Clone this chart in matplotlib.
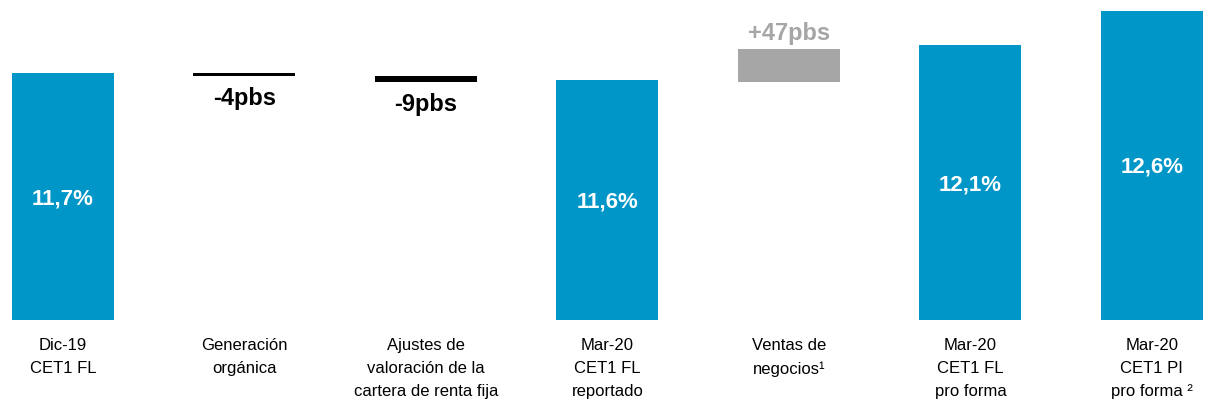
import matplotlib.pyplot as plt

# datos CET1 (en %) y variaciones (en pbs)
categorias = ['Dic-19\nCET1 FL', 'Generación\norgánica',
              'Ajustes de\nvaloración de la\ncartera de renta fija',
              'Mar-20\nCET1 FL\nreportado', 'Ventas de\nnegocios¹',
              'Mar-20\nCET1 FL\npro forma', 'Mar-20\nCET1 PI\npro forma ²']
tipo = ['total', 'delta', 'delta', 'total', 'delta', 'total', 'total']
valores = [11.7, -4, -9, 11.6, 47, 12.1, 12.6]

azul = '#0096C8'
gris = '#A6A6A6'
negro = '#000000'

plt.rcParams['font.family'] = ['Liberation Sans', 'DejaVu Sans']

fig = plt.figure(figsize=(12.08, 4.04), dpi=100)
ax = fig.add_axes([0, 0.2079, 1, 0.7921])

base = 8.139
ancho = 0.562
nivel = valores[0]

for i, (t, v) in enumerate(zip(tipo, valores)):
    if t == 'total':
        ax.bar(i, v - base, bottom=base, width=ancho, color=azul)
        ax.text(i, (base + v) / 2 - 0.03, f'{v:.1f}%'.replace('.', ','),
                ha='center', va='center', color='white',
                fontsize=16, fontweight='bold')
        nivel = v if i == 0 else nivel
    else:
        d = v / 100
        if d < 0:
            ax.bar(i, d, bottom=nivel, width=ancho, color=negro)
            ax.annotate(f'{v}pbs', (i, nivel + d), xytext=(0, -8),
                        textcoords='offset points', ha='center', va='top',
                        fontsize=17, fontweight='bold', color=negro)
        else:
            ax.bar(i, d, bottom=nivel, width=ancho, color=gris)
            ax.annotate(f'+{v}pbs', (i, nivel + d), xytext=(0, 3),
                        textcoords='offset points', ha='center', va='bottom',
                        fontsize=17, fontweight='bold', color=gris)
        nivel += d

ax.set_xlim(-0.347, 6.309)
ax.set_ylim(base, base + 4.614)
ax.set_xticks(range(len(categorias)))
ax.set_xticklabels(categorias, fontsize=12, linespacing=1.65)
ax.tick_params(axis='x', length=0, pad=13)
ax.set_yticks([])
for s in ax.spines.values():
    s.set_visible(False)

fig.savefig('out.png', dpi=100)
